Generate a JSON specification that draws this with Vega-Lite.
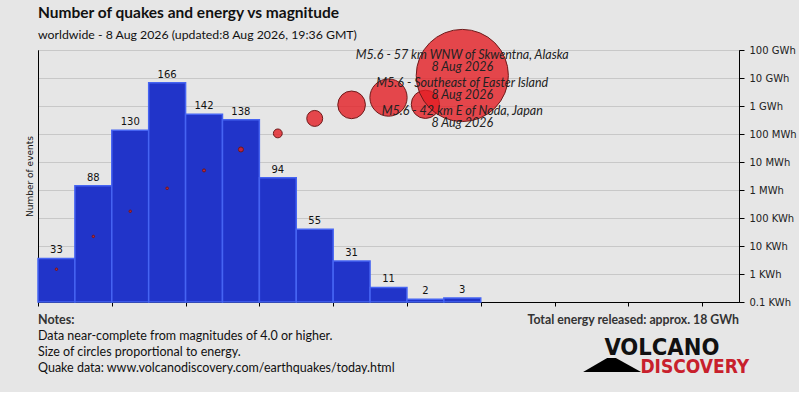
{
  "$schema": "https://vega.github.io/schema/vega-lite/v6.json",
  "background": "#e6e6e6",
  "padding": {"left": 24, "top": 5, "right": 2, "bottom": 0},
  "spacing": 4,
  "config": {
    "font": "DejaVu Sans",
    "axis": {
      "domainColor": "#000",
      "tickColor": "#000",
      "labelColor": "#222",
      "labelFont": "DejaVu Sans",
      "labelFontSize": 10,
      "gridColor": "#c8c8c8"
    },
    "view": {"stroke": "#000", "strokeWidth": 1}
  },
  "datasets": {
    "bins": [
      {"lo": 0, "hi": 0.5, "mid": 0.25, "count": 33, "energy": 1480},
      {"lo": 0.5, "hi": 1, "mid": 0.75, "count": 88, "energy": 22000},
      {"lo": 1, "hi": 1.5, "mid": 1.25, "count": 130, "energy": 174000},
      {"lo": 1.5, "hi": 2, "mid": 1.75, "count": 166, "energy": 1150000},
      {"lo": 2, "hi": 2.5, "mid": 2.25, "count": 142, "energy": 5000000},
      {"lo": 2.5, "hi": 3, "mid": 2.75, "count": 138, "energy": 28000000},
      {"lo": 3, "hi": 3.5, "mid": 3.25, "count": 94, "energy": 105000000},
      {"lo": 3.5, "hi": 4, "mid": 3.75, "count": 55, "energy": 360000000},
      {"lo": 4, "hi": 4.5, "mid": 4.25, "count": 31, "energy": 1100000000},
      {"lo": 4.5, "hi": 5, "mid": 4.75, "count": 11, "energy": 2000000000},
      {"lo": 5, "hi": 5.5, "mid": 5.25, "count": 2, "energy": 1150000000},
      {"lo": 5.5, "hi": 6, "mid": 5.75, "count": 3, "energy": 12300000000}
    ],
    "ticks": [
      {"tick": 0, "label": "M0-0.5"},
      {"tick": 1, "label": "M1"},
      {"tick": 1.5, "label": "M1.5"},
      {"tick": 2, "label": "M2"},
      {"tick": 2.5, "label": "M2.5"},
      {"tick": 3, "label": "M3"},
      {"tick": 3.5, "label": "M3.5"},
      {"tick": 4, "label": "M4"},
      {"tick": 4.5, "label": "M4.5"},
      {"tick": 5, "label": "M5"},
      {"tick": 5.5, "label": "M5.5"},
      {"tick": 6, "label": "M6"},
      {"tick": 6.5, "label": "M6.5"},
      {"tick": 7, "label": "M7"},
      {"tick": 7.5, "label": "M7.5"},
      {"tick": 8, "label": "M8"},
      {"tick": 8.5, "label": "M8.5"},
      {"tick": 9, "label": "M9"},
      {"tick": 9.5, "label": "M9.5"}
    ],
    "quakes": [
      {"mag": 5.75, "anchor": 100000000000, "label": "M5.6 - 57 km WNW of Skwentna, Alaska\n8 Aug 2026"},
      {"mag": 5.75, "anchor": 10000000000, "label": "M5.6 - Southeast of Easter Island\n8 Aug 2026"},
      {"mag": 5.75, "anchor": 1000000000, "label": "M5.6 - 42 km E of Noda, Japan\n8 Aug 2026"}
    ],
    "notes": [
      {"side": 0, "line": 0, "kind": "head", "text": "Notes:"},
      {"side": 0, "line": 1, "kind": "note", "text": "Data near-complete from magnitudes of 4.0 or higher."},
      {"side": 0, "line": 2, "kind": "note", "text": "Size of circles proportional to energy."},
      {"side": 0, "line": 3, "kind": "note", "text": "Quake data: www.volcanodiscovery.com/earthquakes/today.html"},
      {"side": 1, "line": 0, "kind": "total", "text": "Total energy released: approx. 18 GWh"},
      {"kind": "logo1", "text": "VOLCANO"},
      {"kind": "logo2", "text": "DISCOVERY"},
      {"kind": "logo3", "text": ""}
    ]
  },
  "vconcat": [
    {
      "width": 701,
      "height": 252,
      "title": {
        "text": "Number of quakes and energy vs magnitude",
        "subtitle": "worldwide - 8 Aug 2026 (updated:8 Aug 2026, 19:36 GMT)",
        "anchor": "start",
        "frame": "group",
        "font": "Lato",
        "fontSize": 15.5,
        "fontWeight": "bold",
        "color": "#111",
        "subtitleFont": "Lato",
        "subtitleFontSize": 12.3,
        "subtitleColor": "#111",
        "subtitlePadding": 8,
        "offset": -14
      },
      "layer": [
        {
          "data": {"name": "bins"},
          "encoding": {
            "x": {
              "field": "lo",
              "type": "quantitative",
              "scale": {"domain": [0, 9.5], "nice": false, "zero": false},
              "axis": {
                "title": null,
                "grid": false,
                "values": [0, 0.5, 1, 1.5, 2, 2.5, 3, 3.5, 4, 4.5, 5, 5.5, 6, 6.5, 7, 7.5, 8, 8.5, 9, 9.5],
                "labels": false,
                "tickSize": 4
              }
            },
            "y": {
              "field": "count",
              "type": "quantitative",
              "scale": {"domain": [0, 190.7], "nice": false},
              "axis": {
                "orient": "left",
                "title": "Number of events",
                "titleFont": "DejaVu Sans",
                "titleFontSize": 9,
                "titleFontWeight": "normal",
                "titleColor": "#111",
                "titlePadding": 4,
                "labels": false,
                "ticks": false,
                "grid": false
              }
            }
          },
          "layer": [
            {
              "mark": {"type": "bar", "fill": "#2134c9", "stroke": "#4664f2", "strokeWidth": 1.5},
              "encoding": {"x2": {"field": "hi"}, "y2": {"datum": 0}}
            },
            {
              "mark": {"type": "text", "baseline": "bottom", "dy": -3, "fontSize": 10, "color": "#111"},
              "encoding": {
                "x": {"field": "mid", "type": "quantitative"},
                "text": {"field": "count", "type": "quantitative"}
              }
            },
            {
              "data": {"name": "ticks"},
              "transform": [{"filter": "datum.tick === 0"}],
              "mark": {"type": "text", "align": "left", "baseline": "top", "dy": 7, "fontSize": 10, "color": "#222"},
              "encoding": {
                "x": {"field": "tick", "type": "quantitative"},
                "y": {"datum": 0, "type": "quantitative"},
                "text": {"field": "label"}
              }
            },
            {
              "data": {"name": "ticks"},
              "transform": [{"filter": "datum.tick > 0"}],
              "mark": {"type": "text", "align": "center", "baseline": "top", "dy": 7, "fontSize": 10, "color": "#222"},
              "encoding": {
                "x": {"field": "tick", "type": "quantitative"},
                "y": {"datum": 0, "type": "quantitative"},
                "text": {"field": "label"}
              }
            }
          ]
        },
        {
          "encoding": {
            "y": {
              "field": "energy",
              "type": "quantitative",
              "scale": {"type": "log", "domain": [100, 100000000000], "nice": false},
              "axis": {
                "orient": "right",
                "title": null,
                "grid": true,
                "values": [100, 1000, 10000, 100000, 1000000, 10000000, 100000000, 1000000000, 10000000000, 100000000000],
                "labelExpr": "['0.1 KWh','1 KWh','10 KWh','100 KWh','1 MWh','10 MWh','100 MWh','1 GWh','10 GWh','100 GWh'][round(log(datum.value) / LN10) - 2]",
                "tickSize": 5,
                "labelPadding": 5
              }
            }
          },
          "layer": [
            {
              "data": {"name": "bins"},
              "mark": {"type": "circle", "fill": "#e31e24", "fillOpacity": 0.8, "stroke": "#6e1a1a", "strokeWidth": 1, "opacity": 1},
              "encoding": {
                "x": {"field": "mid", "type": "quantitative"},
                "size": {
                  "field": "energy",
                  "type": "quantitative",
                  "scale": {"type": "linear", "domain": [0, 12300000000], "range": [6, 8495], "zero": true},
                  "legend": null
                }
              }
            },
            {
              "data": {"name": "quakes"},
              "mark": {"type": "text", "align": "center", "baseline": "top", "font": "Lato", "fontStyle": "italic", "fontSize": 12.5, "lineHeight": 11.7, "color": "#222", "lineBreak": "\n", "dy": -1},
              "encoding": {
                "x": {"field": "mag", "type": "quantitative"},
                "y": {"field": "anchor", "type": "quantitative"},
                "text": {"field": "label", "type": "nominal"}
              }
            }
          ]
        }
      ],
      "resolve": {"scale": {"y": "independent"}, "axis": {"y": "independent"}}
    },
    {
      "width": 701,
      "height": 80,
      "view": {"stroke": null},
      "data": {"name": "notes"},
      "layer": [
        {
          "transform": [{"filter": "datum.kind === 'head'"}],
          "mark": {"type": "text", "align": "left", "font": "Lato", "fontSize": 12.5, "fontWeight": "bold", "color": "#333"},
          "encoding": {
            "x": {"field": "side", "type": "quantitative", "scale": {"domain": [0, 1]}, "axis": null},
            "y": {"field": "line", "type": "quantitative", "scale": {"domain": [-0.5, 4.5], "reverse": true}, "axis": null},
            "text": {"field": "text"}
          }
        },
        {
          "transform": [{"filter": "datum.kind === 'note'"}],
          "mark": {"type": "text", "align": "left", "font": "Lato", "fontSize": 12.5, "color": "#111"},
          "encoding": {
            "x": {"field": "side", "type": "quantitative"},
            "y": {"field": "line", "type": "quantitative"},
            "text": {"field": "text"}
          }
        },
        {
          "transform": [{"filter": "datum.kind === 'total'"}],
          "mark": {"type": "text", "align": "right", "font": "Lato", "fontSize": 12.3, "fontWeight": "bold", "color": "#333"},
          "encoding": {
            "x": {"field": "side", "type": "quantitative"},
            "y": {"field": "line", "type": "quantitative"},
            "text": {"field": "text"}
          }
        },
        {
          "transform": [{"filter": "datum.kind === 'logo3'"}],
          "mark": {"type": "point", "shape": "M-1,0.24L-0.17,-0.24L0.13,-0.24L1,0.24Z", "size": 3364, "filled": true, "fill": "#000", "opacity": 1, "strokeWidth": 0},
          "encoding": {
            "x": {"datum": 0.819, "type": "quantitative"},
            "y": {"datum": 2.81, "type": "quantitative"}
          }
        },
        {
          "transform": [{"filter": "datum.kind === 'logo1'"}],
          "mark": {"type": "text", "align": "center", "font": "DejaVu Sans Condensed", "fontSize": 23.5, "fontWeight": "bold", "color": "#111"},
          "encoding": {
            "x": {"datum": 0.89, "type": "quantitative"},
            "y": {"datum": 1.77, "type": "quantitative"},
            "text": {"field": "text"}
          }
        },
        {
          "transform": [{"filter": "datum.kind === 'logo2'"}],
          "mark": {"type": "text", "align": "center", "font": "DejaVu Sans Condensed", "fontSize": 19, "fontWeight": "bold", "color": "#c8202c"},
          "encoding": {
            "x": {"datum": 0.937, "type": "quantitative"},
            "y": {"datum": 2.92, "type": "quantitative"},
            "text": {"field": "text"}
          }
        }
      ]
    }
  ]
}
